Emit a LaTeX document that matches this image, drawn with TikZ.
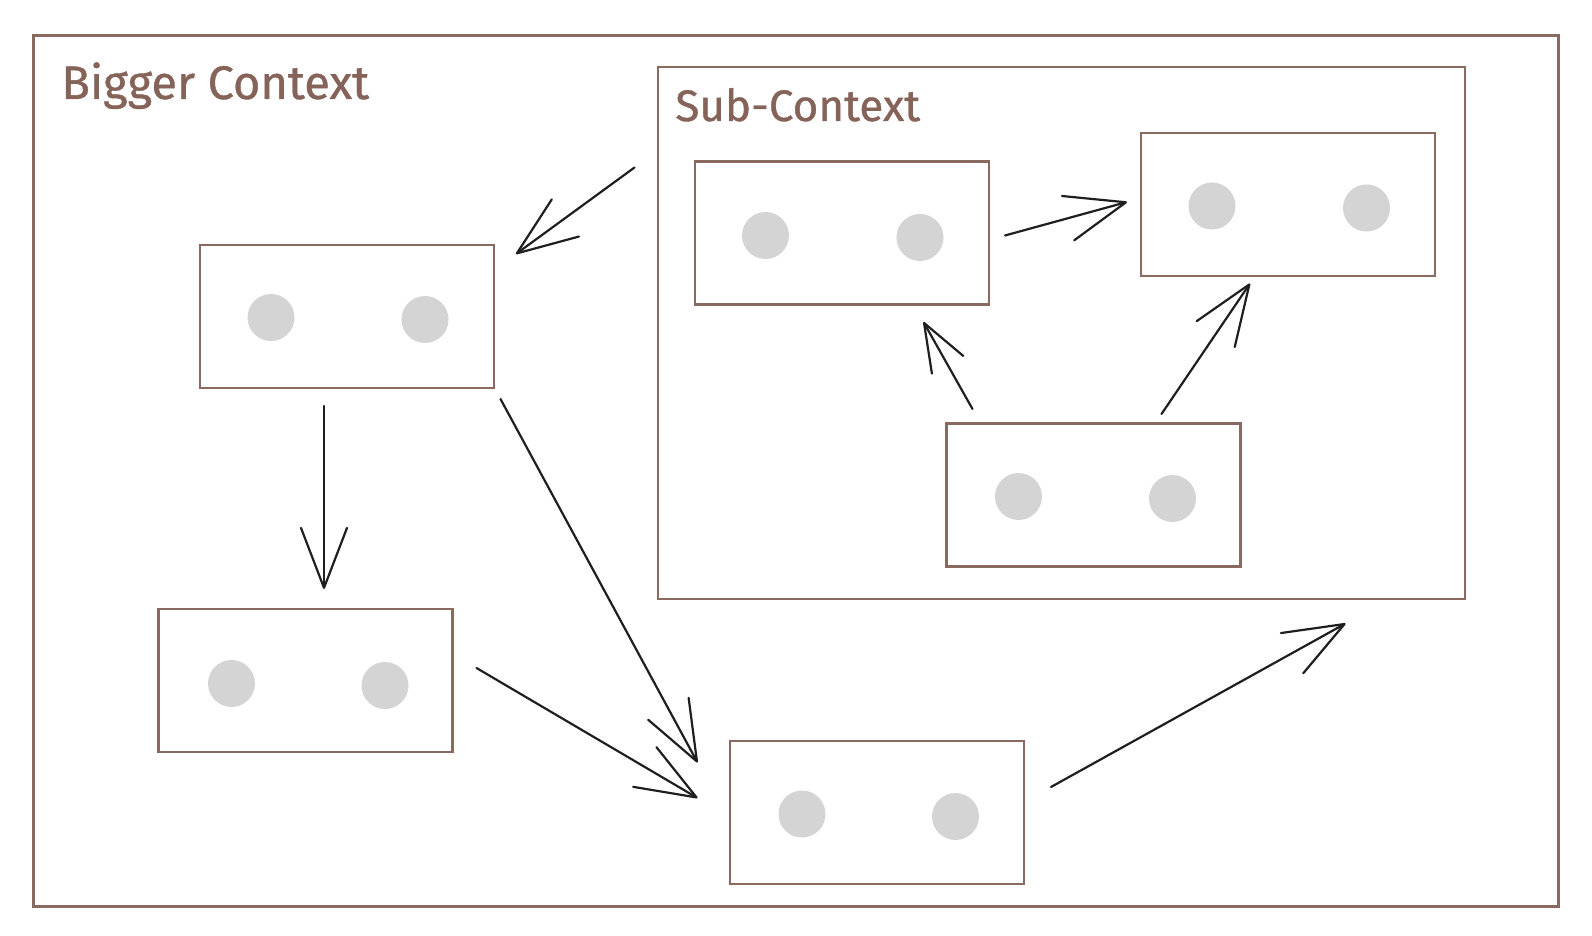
\documentclass[tikz,border=0pt]{standalone}
\usepackage{fontspec}
\setmainfont{Fira Sans}
\newfontfamily\handfont[FakeBold=0.8]{Fira Sans}
\usetikzlibrary{arrows.meta}
\definecolor{frame}{HTML}{8A6A60}
\definecolor{txt}{HTML}{856358}
\definecolor{dot}{HTML}{D4D4D4}
\tikzset{
  box/.style={draw=frame, line width=1.1pt, fill=white, minimum width=147pt, minimum height=71.5pt, inner sep=0pt},
  dotc/.style={circle, fill=dot, minimum size=23.5pt, inner sep=0pt},
  conn/.style={draw=black!88, line width=1.1pt, line cap=round, -{Straight Barb[length=30pt,width=23pt,line width=1.1pt,round]}},
  shortconn/.style={conn, -{Straight Barb[length=24pt,width=18pt,line width=1.1pt,round]}},
  ctx/.style={draw=frame, line width=1.1pt},
  lbl/.style={text=txt, anchor=base west, inner sep=0pt}
}
\begin{document}
\begin{tikzpicture}[x=0.5pt, y=-0.5pt]
\useasboundingbox (0,0) rectangle (1592,936);
\fill[white] (0,0) rectangle (1592,936);
% frames
\draw[ctx] (33.5,35.5) rectangle (1558.5,906.5);
\draw[ctx] (658,67) rectangle (1465,599);
\node[lbl, font=\handfont\fontsize{23.5}{26}\selectfont] (big) at (61,99) {Bigger Context};
\node[lbl, font=\handfont\fontsize{22}{25}\selectfont] (sub) at (675,121) {Sub-Context};
% boxes
\node[box] (A) at (347,316.5) {};
\node[box] (B) at (305.5,680.5) {};
\node[box] (C) at (877,812.5) {};
\node[box] (D) at (842,233) {};
\node[box] (E) at (1288,204.5) {};
\node[box] (F) at (1093.5,495) {};
% dots
\foreach \n/\x/\y in {A1/271/317.5, A2/425/319.5, B1/231.5/683.5, B2/385/685.5, C1/802/814, C2/955.5/816.5, D1/765.5/235.5, D2/920/237.5, E1/1212/206, E2/1366.5/208, F1/1018.5/496.5, F2/1172.5/498.5}
  \node[dotc] (\n) at (\x,\y) {};
% arrow end coordinates
\coordinate (a1s) at (634.5,167.5); \coordinate (a1e) at (516,254);
\coordinate (a2s) at (324,406);     \coordinate (a2e) at (324,589);
\coordinate (a3s) at (500.5,399);   \coordinate (a3e) at (697.5,762.5);
\coordinate (a4s) at (476.5,668);   \coordinate (a4e) at (697.5,798);
\coordinate (a5s) at (1051,787);    \coordinate (a5e) at (1345.5,623.5);
\coordinate (a6s) at (1005,235.5);  \coordinate (a6e) at (1127,202);
\coordinate (a7s) at (972.5,409);   \coordinate (a7e) at (923.5,322);
\coordinate (a8s) at (1161.5,414);  \coordinate (a8e) at (1250,283.5);
\foreach \i in {1,2,3,4,5,6,8} \draw[conn] (a\i s) -- (a\i e);
\draw[shortconn] (a7s) -- (a7e);
\end{tikzpicture}
\end{document}
